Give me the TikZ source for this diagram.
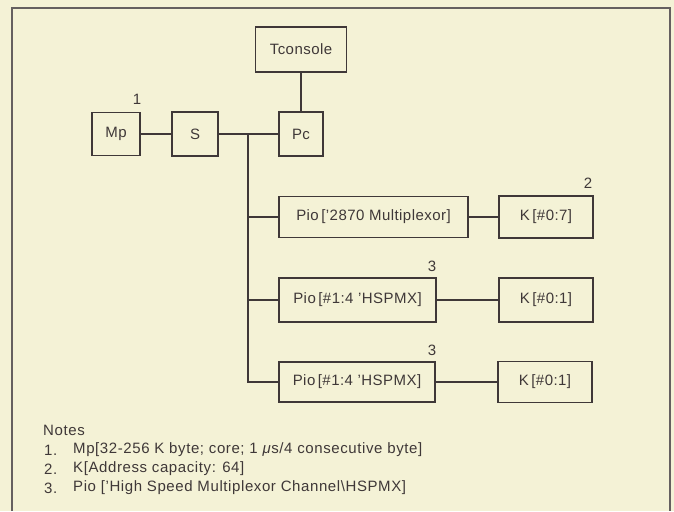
\documentclass[tikz,border=0pt]{standalone}
\usepackage{fontspec}
\setmainfont{Liberation Sans}
\newfontfamily\boxfont[LetterSpace=3]{Liberation Sans}
\newfontfamily\notefont[LetterSpace=4]{Liberation Sans}
\definecolor{bg}{HTML}{F4F2D6}
\definecolor{ink}{HTML}{3F3838}
\tikzset{
  box/.style={draw=ink, line width=1.3pt, inner sep=0pt, font=\boxfont\fontsize{15}{18}\selectfont, text=ink},
  conn/.style={draw=ink, line width=1.8pt},
  thinconn/.style={draw=ink, line width=1.4pt},
  framel/.style={draw=ink!80, line width=1.2pt},
  numlabel/.style={font=\boxfont\fontsize{15}{18}\selectfont, text=ink, inner sep=0pt},
  notetext/.style={font=\notefont\fontsize{15}{18}\selectfont, text=ink, inner sep=0pt, anchor=west}
}
\begin{document}
\begin{tikzpicture}[x=1pt,y=-1pt]
\fill[bg] (0,0) rectangle (674,511);
\useasboundingbox (0,0) rectangle (674,511);
\draw[framel] (12,511) -- (12,8) -- (670,8) -- (670,511);

\node[box, minimum width=91pt, minimum height=45pt] (tc) at (301,49.5) {Tconsole};
\node[box, minimum width=48pt, minimum height=43pt] (mp) at (116,134) {Mp};
\node[box, minimum width=46pt, minimum height=44pt] (s) at (195,134) {S};
\node[box, minimum width=44pt, minimum height=44pt] (pc) at (301,134) {Pc};
\node[box, minimum width=189pt, minimum height=41pt] (pio1) at (373.5,217) {Pio\,[’2870 Multiplexor]};
\node[box, minimum width=94pt, minimum height=42pt] (k1) at (546,217) {K\,[\#0:7]};
\node[box, minimum width=157pt, minimum height=44pt] (pio2) at (357.5,300) {Pio\,[\#1:4 ’HSPMX]};
\node[box, minimum width=94pt, minimum height=44pt] (k2) at (546,300) {K\,[\#0:1]};
\node[box, minimum width=156pt, minimum height=40pt] (pio3) at (357,382) {Pio\,[\#1:4 ’HSPMX]};
\node[box, minimum width=94pt, minimum height=41pt] (k3) at (545,382) {K\,[\#0:1]};

\node[numlabel] (n1) at (137,99) {1};
\node[numlabel] (n2) at (588,183) {2};
\node[numlabel] (n3a) at (432,266) {3};
\node[numlabel] (n3b) at (432,350) {3};

\coordinate (bt) at (248,134);
\coordinate (bb) at (248,382);
\draw[conn] (tc.south) -- (pc.north);
\draw[conn] (mp.east) -- (s.west);
\draw[conn] (s.east) -- (pc.west);
\draw[conn] (bt) -- (bb) -- (pio3.west);
\draw[conn] (bt |- pio1.west) -- (pio1.west);
\draw[conn] (bt |- pio2.west) -- (pio2.west);
\draw[conn] (pio1.east) -- (k1.west);
\draw[thinconn] (pio2.east) -- (k2.west);
\draw[thinconn] (pio3.east) -- (k3.west);

\node[notetext] (notes) at (43,430) {Notes};
\node[notetext] (l1n) at (44,450) {1.};
\node[notetext] (l1) at (73,450) {Mp[32-256 K byte; core; 1 \textit{μ}s/4 consecutive byte]};
\node[notetext] (l2n) at (44,469) {2.};
\node[notetext] (l2) at (73,469) {K[Address capacity: 64]};
\node[notetext] (l3n) at (44,488) {3.};
\node[notetext] (l3) at (73,488) {Pio [’High Speed Multiplexor Channel\textbackslash HSPMX]};
\end{tikzpicture}
\end{document}
